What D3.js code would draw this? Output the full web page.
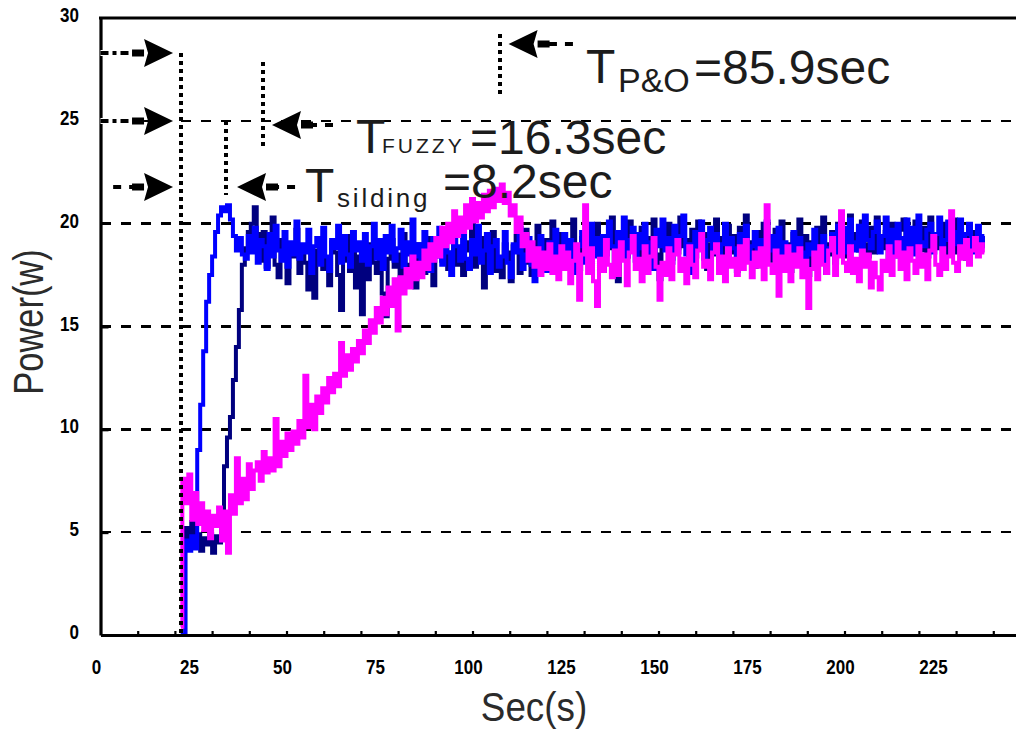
<!DOCTYPE html>
<html>
<head>
<meta charset="utf-8">
<script src="https://cdn.jsdelivr.net/npm/d3@7"></script>
<style>
  html, body { margin: 0; padding: 0; background: #ffffff; }
  svg { display: block; }
</style>
</head>
<body>
<svg id="chart" width="1016" height="731"></svg>
<script>
// Sampled output power (W) of the three MPPT controllers, one value every sampleStep seconds.
const sampleStart = 21.6;
const sampleStep = 0.8;

const slidingPower = [
  0, 0, 4.6, 4.1, 4.8, 4.2, 9.0, 11.2, 13.8, 16.2, 17.5, 18.4, 19.6, 20.4, 20.8, 20.6, 20.9, 20.2, 19.4, 18.7, 19.3, 18.5,
  18.3, 19.4, 18.6, 19.8, 18.1, 19.2, 18.9, 17.8, 19.5, 18.4, 19.9, 18.7, 18.2, 19.6, 17.9, 19.1, 18.5, 20.1, 18.3, 19.0,
  18.6, 19.7, 17.6, 18.9, 19.3, 18.0, 19.8, 18.4, 17.7, 19.2, 18.8, 19.9, 18.1, 19.4, 18.5, 17.9, 19.6, 18.7, 19.1, 18.2,
  19.5, 18.0, 18.9, 20.0, 18.3, 19.2, 17.8, 19.4, 18.6, 19.9, 18.2, 18.8, 19.7, 17.9, 19.1, 18.5, 20.2, 18.4, 19.0, 18.1,
  19.6, 18.7, 17.7, 19.3, 18.4, 19.8, 18.0, 19.1, 18.6, 17.5, 19.4, 18.9, 18.2, 19.7, 18.3, 17.8, 19.2, 18.5, 19.9, 18.1,
  18.7, 19.5, 17.6, 18.9, 19.2, 17.9, 18.4, 19.6, 18.1, 17.4, 19.0, 18.6, 19.8, 17.8, 18.5, 19.3, 18.0, 17.2, 18.8, 19.4,
  18.2, 17.7, 19.1, 18.4, 19.7, 18.0, 18.8, 19.5, 17.9, 19.2, 18.3, 17.6, 18.9, 19.6, 18.1, 18.7, 20.0, 18.4, 19.3, 17.8,
  19.4, 18.5, 20.1, 18.9, 17.9, 19.6, 18.7, 20.3, 18.4, 19.2, 19.8, 18.2, 19.5, 18.8, 20.0, 18.6, 19.1, 17.8, 19.7, 18.9,
  20.2, 18.7, 19.3, 18.1, 19.9, 18.8, 19.4, 20.4, 18.5, 19.0, 17.6, 19.6, 18.9, 20.1, 18.3, 19.2, 19.8, 18.6, 19.5, 18.2,
  19.0, 20.0, 18.4, 19.3, 18.8, 17.7, 19.5, 18.6, 19.9, 18.2, 18.9, 19.6, 18.0, 19.2, 18.5, 20.1, 18.7, 19.4, 18.3, 19.8,
  18.4, 19.1, 17.9, 18.7, 19.6, 18.2, 19.3, 18.6, 17.8, 19.0, 18.5, 19.7, 18.1, 18.9, 19.4, 17.6, 18.8, 19.5, 18.3, 19.9,
  18.9, 19.8, 18.6, 20.2, 19.1, 18.7, 19.9, 18.5, 20.4, 19.2, 18.8, 19.6, 20.1, 18.6, 19.4, 20.3, 18.9, 19.7, 18.4, 20.0,
  19.3, 18.7, 20.2, 19.0, 19.8, 18.5, 20.4, 19.1, 18.9, 19.7, 20.0, 18.6, 19.5, 20.3, 18.8, 19.2, 20.1, 18.7, 19.6, 19.0,
  20.2, 18.8, 19.5, 20.0, 18.6, 19.3, 19.9, 18.9, 19.4
];

const fuzzyPower = [
  0, 0, 5.2, 4.3, 5.5, 4.4, 4.9, 4.1, 4.7, 4.4, 4.9, 4.0, 4.8, 4.5, 6.0, 8.2, 9.6, 10.6, 12.4, 14.0, 15.8, 18.0, 18.8,
  19.6, 20.0, 20.8, 19.5,
  18.2, 19.6, 17.9, 18.8, 20.3, 18.0, 17.4, 19.2, 18.6, 17.1, 19.0, 18.4, 19.7, 17.6, 18.9, 18.1, 16.8, 18.5, 16.4, 18.7,
  19.3, 17.8, 18.3, 17.0, 19.1, 18.6, 17.5, 15.8, 18.2, 19.4, 17.7, 18.8, 16.9, 18.4, 15.6, 18.9, 17.3, 19.0, 18.1, 17.6,
  18.7, 16.6, 15.5, 18.3, 19.2, 17.9, 18.5, 17.2, 19.5, 18.0, 17.4, 18.8, 16.9, 19.0, 18.3, 17.6, 19.3, 18.1, 17.0, 18.6,
  18.9, 18.2, 19.5, 17.8, 18.6, 19.8, 18.0, 18.4, 17.5, 19.1, 18.7, 20.0, 17.9, 18.5, 19.3, 16.9, 18.8, 18.1, 19.6, 17.7,
  18.3, 17.4, 19.0, 18.6, 17.2, 18.9, 19.4, 17.6, 18.4, 19.7, 18.1, 17.5, 18.8, 19.9, 18.2, 17.8, 19.2, 18.5, 20.1, 18.0,
  19.5, 18.3, 17.9, 19.1, 18.7, 20.2, 18.4, 17.8, 19.3, 18.6, 19.8, 18.1, 18.9, 20.0, 18.5, 17.7, 19.4, 18.8, 20.3, 18.2,
  17.2, 18.9, 19.6, 18.4, 20.1, 18.7, 19.0, 18.2, 19.8, 18.6, 17.9, 19.3, 20.2, 18.5, 17.3, 19.1, 18.8, 20.0, 18.3, 19.4,
  18.6, 20.3, 18.9, 19.2, 18.0, 19.7, 18.4, 20.1, 18.8, 19.5, 17.8, 19.0, 18.5, 20.2, 18.7, 19.3, 18.1, 19.9, 18.6, 19.4,
  18.3, 19.8, 18.7, 20.4, 18.9, 19.1, 17.9, 19.6, 18.5, 20.0, 18.8, 19.2, 18.2, 19.7, 18.6, 20.1, 18.4, 19.0, 17.7, 19.5,
  18.9, 20.2, 18.6, 19.4, 17.5, 19.1, 18.3, 19.8, 18.7, 20.3, 19.0, 18.5, 19.6, 18.1, 20.0, 18.8, 19.3, 18.4, 20.4, 18.9,
  19.5, 18.7, 20.1, 19.0, 18.4, 19.8, 18.6, 20.3, 19.2, 18.8, 19.6, 18.3, 20.0, 19.1, 18.5, 19.7, 20.2, 18.9, 19.3, 18.6,
  20.1, 19.0, 18.7, 19.8, 18.4, 20.3, 19.2, 18.8, 19.5, 20.0, 18.5, 19.4, 18.9, 20.2, 18.6, 19.7, 19.1, 18.3, 19.9, 19.0,
  19.6, 18.7, 19.3, 18.9
];

const poPower = [
  0.4, 7.6, 6.4, 7.8, 5.6, 6.9, 5.4, 6.4, 5.1, 6.0, 4.7, 5.8, 5.3, 6.2, 4.6, 6.0, 4.0, 6.8, 5.9, 8.6, 6.4, 7.6, 6.6, 8.3,
  7.1, 8.0,
  8.4, 7.5, 8.9, 7.9, 8.6, 8.0, 10.5, 8.2, 9.4, 8.7, 9.8, 9.0, 9.9, 9.3, 10.4, 9.6, 12.6, 10.1, 11.2, 10.0,
  11.6, 10.8, 12.0, 11.3, 12.5, 11.8, 12.7, 12.1, 14.2, 12.6, 13.6, 12.9, 13.9, 13.3, 14.3, 13.7, 14.8, 14.2, 15.3, 14.7,
  15.9, 15.2, 16.4, 15.6, 16.9, 16.0, 17.3, 14.8, 17.4, 16.6, 17.8, 16.9, 18.4, 17.3, 18.1, 17.4, 18.7, 17.8, 19.0, 18.2,
  19.3, 18.4, 19.8, 18.9, 20.0, 19.1, 20.6, 19.4, 20.3, 19.6, 20.9, 19.8, 21.2, 20.1, 21.0, 20.3, 21.4, 20.6, 21.6, 20.8,
  21.7, 21.1, 21.9, 21.0, 21.5, 20.4, 20.9, 19.6, 20.3, 18.9, 19.5, 18.2, 19.1, 17.9, 18.8, 17.5, 18.6, 17.8, 19.0, 17.6,
  18.4, 17.3, 18.9, 17.8, 18.6, 17.1, 18.2, 19.0, 16.3, 18.5, 20.9, 17.6, 18.8, 17.2, 16.0, 18.3, 17.7, 19.2, 18.0, 17.4,
  18.7, 17.5, 19.1, 18.2, 17.0, 18.6, 19.4, 17.8, 18.3, 17.2, 18.9, 17.6, 18.4, 19.3, 17.9, 16.3, 18.1, 17.5, 18.8, 17.3,
  18.5, 19.2, 17.7, 18.3, 17.1, 18.9, 18.0, 17.4, 18.7, 19.5, 17.9, 18.2, 17.3, 18.6, 19.0, 17.6, 18.4, 17.2, 18.8, 17.9,
  18.3, 17.5, 18.9, 17.8, 19.2, 18.1, 17.4, 18.6, 17.9, 18.8, 17.3, 20.9, 18.0, 17.6, 18.7, 16.5, 18.4, 17.7, 18.9, 17.2,
  18.5, 17.9, 18.8, 17.4, 18.2, 15.9, 17.8, 18.6, 17.3, 18.9, 18.0, 17.6, 18.7, 19.3, 17.5, 18.4, 20.6, 18.1, 17.7, 18.9,
  17.6, 18.3, 17.2, 18.7, 17.9, 18.5, 16.9, 18.1, 17.4, 16.8, 18.2, 17.7, 18.9, 17.5, 18.4, 19.1, 17.8, 18.6, 17.3, 18.8,
  18.2, 17.6, 18.9, 17.9, 18.5, 17.3, 18.7, 19.4, 18.0, 17.5, 18.8, 17.8, 18.4, 20.6, 18.1, 17.7, 18.9, 18.3, 19.2, 18.0,
  18.7, 19.3, 18.4, 19.0, 18.6
];

// Axis ticks and labels
const xTickLabels = [0, 25, 50, 75, 100, 125, 150, 175, 200, 225];
const xMinorTicks = [10, 20, 30, 40, 50, 60, 70, 80, 90, 100, 110, 120, 130, 140, 150, 160, 170, 180, 190, 200, 210, 220, 230, 240];
const yTickLabels = [0, 5, 10, 15, 20, 25, 30];
const gridLevels = [5, 10, 15, 20, 25];

// Settling-time markers (s) and the annotation texts
const markerTimes = [21.6, 33.7, 43.7, 107.5];
const settlingLabels = [
  { main: "T", sub: "silding", value: "=8.2sec" },
  { main: "T", sub: "FUZZY", value: "=16.3sec" },
  { main: "T", sub: "P&O", value: "=85.9sec" }
];

const svg = d3.select("#chart");
const W = 1016;

const x = d3.scaleLinear().domain([0, 250]).range([100.5, 1030.5]);
const y = d3.scaleLinear().domain([0, 30]).range([635, 18]);

const font = "'Liberation Sans', Arial, Helvetica, sans-serif";

// dashed horizontal grid
svg.append("g")
  .selectAll("line")
  .data(gridLevels)
  .join("line")
  .attr("x1", x(0))
  .attr("x2", W)
  .attr("y1", d => y(d))
  .attr("y2", d => y(d))
  .attr("stroke", "#000")
  .attr("stroke-width", 2.6)
  .attr("stroke-dasharray", "10,10")
  .attr("shape-rendering", "crispEdges");

// power traces: fuzzy underneath, then sliding mode, then P&O
const line = d3.line()
  .curve(d3.curveStep)
  .x((d, i) => x(sampleStart + i * sampleStep))
  .y(d => y(d));

const traces = [
  { values: fuzzyPower, color: "#00007f" },
  { values: slidingPower, color: "#0000ff" },
  { values: poPower, color: "#ff00ff" }
];

svg.append("g")
  .selectAll("path")
  .data(traces)
  .join("path")
  .attr("d", d => line(d.values))
  .attr("fill", "none")
  .attr("stroke", d => d.color)
  .attr("stroke-width", 4)
  .attr("stroke-linejoin", "miter");

// axes
const xAxis = d3.axisBottom(x)
  .tickValues(xMinorTicks)
  .tickSize(-4)
  .tickSizeOuter(0)
  .tickFormat("");
const gx = svg.append("g")
  .attr("transform", `translate(0,${y(0)})`)
  .call(xAxis);
gx.select(".domain").attr("stroke", "#000").attr("stroke-width", 3.2);
gx.selectAll(".tick line").attr("stroke", "#000").attr("stroke-width", 2.2);

const yAxis = d3.axisLeft(y)
  .tickValues([5, 10, 15])
  .tickSize(-8)
  .tickSizeOuter(0)
  .tickFormat("");
const gy = svg.append("g")
  .attr("transform", `translate(${x(0)},0)`)
  .call(yAxis);
gy.select(".domain").attr("stroke", "#000").attr("stroke-width", 3.2);
gy.selectAll(".tick line").attr("stroke", "#000").attr("stroke-width", 3);

// top frame line
svg.append("line")
  .attr("x1", x(0) - 1.5).attr("x2", W)
  .attr("y1", y(30)).attr("y2", y(30))
  .attr("stroke", "#000").attr("stroke-width", 3.2);

// tick labels
svg.append("g")
  .selectAll("text")
  .data(xTickLabels)
  .join("text")
  .attr("transform", d => `translate(${x(d) - 4},674) scale(0.85,1)`)
  .attr("text-anchor", "middle")
  .attr("font-family", font)
  .attr("font-weight", "bold")
  .attr("font-size", 20)
  .attr("fill", "#000")
  .text(d => d);

svg.append("g")
  .selectAll("text")
  .data(yTickLabels)
  .join("text")
  .attr("transform", d => `translate(79,${y(d) + 4}) scale(0.85,1)`)
  .attr("text-anchor", "end")
  .attr("font-family", font)
  .attr("font-weight", "bold")
  .attr("font-size", 20)
  .attr("fill", "#000")
  .text(d => d);

// axis titles
svg.append("text")
  .attr("transform", "translate(534,721) scale(0.92,1)")
  .attr("text-anchor", "middle")
  .attr("font-family", font)
  .attr("font-size", 40)
  .attr("fill", "#2b2b2b")
  .text("Sec(s)");

svg.append("text")
  .attr("transform", "translate(43,322) rotate(-90) scale(0.82,1)")
  .attr("text-anchor", "middle")
  .attr("font-family", font)
  .attr("font-size", 42)
  .attr("fill", "#2b2b2b")
  .text("Power(w)");

// settling-time annotations
const ann = svg.append("g");

function dotted(t, v1, v2) {
  ann.append("line")
    .attr("x1", Math.round(x(t))).attr("x2", Math.round(x(t)))
    .attr("y1", y(v1)).attr("y2", y(v2))
    .attr("stroke", "#000")
    .attr("stroke-width", 3.5)
    .attr("stroke-dasharray", "4,4")
    .attr("shape-rendering", "crispEdges");
}

function arrow(tTail, tTip, v, pattern) {
  const x1 = x(tTail), x2 = x(tTip), yy = Math.round(y(v));
  const dir = x2 > x1 ? 1 : -1;
  const base = x2 - dir * 29;
  ann.append("line")
    .attr("x1", x1).attr("x2", base)
    .attr("y1", yy).attr("y2", yy)
    .attr("stroke", "#fff").attr("stroke-width", 6);
  ann.append("line")
    .attr("x1", x1).attr("x2", base - dir * 10)
    .attr("y1", yy).attr("y2", yy)
    .attr("stroke", "#000").attr("stroke-width", 4)
    .attr("stroke-dasharray", pattern);
  ann.append("line")
    .attr("x1", base - dir * 12).attr("x2", base)
    .attr("y1", yy).attr("y2", yy)
    .attr("stroke", "#000").attr("stroke-width", 7);
  ann.append("path")
    .attr("d", `M${x2},${yy} L${base},${yy - 14} L${base + dir * 4},${yy} L${base},${yy + 14} Z`)
    .attr("fill", "#000");
}

const [tStart, tSliding, tFuzzy, tPO] = markerTimes;

dotted(tStart, 28.3, 0);
dotted(tSliding, 25, 21.4);
dotted(tFuzzy, 27.85, 23.7);
dotted(tPO, 29.2, 26.2);

arrow(0, tStart - 2.1, 28.3, "8,4,4,4");
arrow(0, tStart - 2.1, 25, "8,4,4,4");
arrow(3.4, tStart - 2.1, 21.8, "8,8");
arrow(52.3, tSliding + 3.0, 21.8, "8,8");
arrow(62.5, tFuzzy + 2.4, 24.8, "8,8");
arrow(127, tPO + 2.2, 28.75, "8,8");

// annotation texts
const textColor = "#1c1c1c";
function label(spec, px, mainY, subX, subY, subSize, subSpacing, valX, valY) {
  const g = ann.append("g")
    .attr("font-family", font)
    .attr("fill", textColor);
  g.append("text").attr("x", px).attr("y", mainY).attr("font-size", 48).text(spec.main);
  g.append("text").attr("x", subX).attr("y", subY).attr("font-size", subSize)
    .attr("letter-spacing", subSpacing).text(spec.sub);
  g.append("text").attr("x", valX).attr("y", valY).attr("font-size", 48).text(spec.value);
}

label(settlingLabels[0], 305, 202, 337, 207, 26, 2.8, 443, 198);
label(settlingLabels[1], 356, 153, 382, 153, 21, 3, 470, 154);
label(settlingLabels[2], 586, 83, 618, 92, 34, 0, 694, 84);
</script>
</body>
</html>
